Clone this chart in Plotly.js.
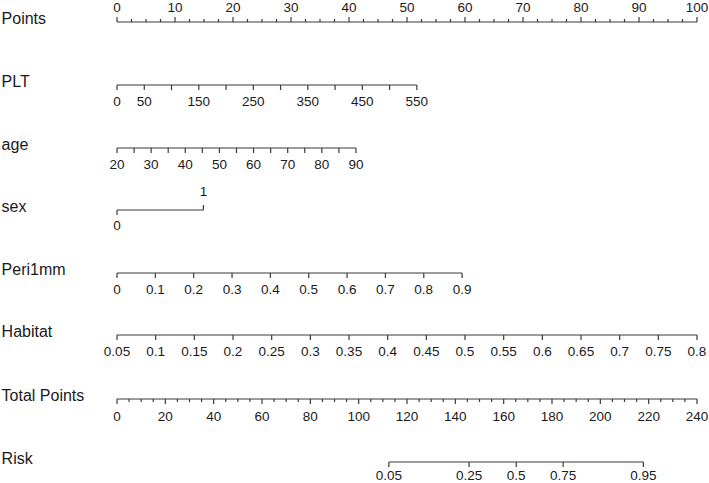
<!DOCTYPE html>
<html>
<head>
<meta charset="utf-8">
<script src="https://cdn.plot.ly/plotly-3.0.1.min.js"></script>
<style>
  html, body { margin: 0; padding: 0; background: #fff; }
  #graph { width: 709px; height: 483px; }
</style>
</head>
<body>
<div id="graph"></div>
<script>
// row names and tick values
const rowNames = ['Points', 'PLT', 'age', 'sex', 'Peri1mm', 'Habitat', 'Total Points', 'Risk'];

const pointsTicks = [0, 10, 20, 30, 40, 50, 60, 70, 80, 90, 100];
const pointsMinorStep = 2.5;

const pltTicks = [0, 50, 100, 150, 200, 250, 300, 350, 400, 450, 500, 550];
const pltLabels = [0, 50, 150, 250, 350, 450, 550];
const pltRange = [0, 550];
const pltPoints = [0, 51.7];

const ageTicks = [20, 25, 30, 35, 40, 45, 50, 55, 60, 65, 70, 75, 80, 85, 90];
const ageLabels = [20, 30, 40, 50, 60, 70, 80, 90];
const ageRange = [20, 90];
const agePoints = [0, 41.2];

const sexTicks = [0, 1];
const sexRange = [0, 1];
const sexPoints = [0, 14.9];

const periTicks = [0, 0.1, 0.2, 0.3, 0.4, 0.5, 0.6, 0.7, 0.8, 0.9];
const periRange = [0, 0.9];
const periPoints = [0, 59.5];

const habitatTicks = [0.05, 0.1, 0.15, 0.2, 0.25, 0.3, 0.35, 0.4, 0.45, 0.5, 0.55, 0.6, 0.65, 0.7, 0.75, 0.8];
const habitatRange = [0.05, 0.8];
const habitatPoints = [0, 100];

const totalTicks = [0, 20, 40, 60, 80, 100, 120, 140, 160, 180, 200, 220, 240];
const totalMinorStep = 5;

const riskLabels = ['0.05', '0.25', '0.5', '0.75', '0.95'];
const riskTotal = [112.5, 145.7, 165.2, 184.6, 217.8];

// layout constants (pixels)
const rowY = [22, 85, 148, 210, 273, 335, 399, 462];
const majorLen = 5;
const minorLen = 3;
const lineColor = '#3a3a3a';
const textColor = '#1a1a1a';
const fontFamily = '"Liberation Sans", Arial, sans-serif';
const tickFont = 13.5;
const nameFont = 16;

function scaler(range, pts) {
    return v => pts[0] + (v - range[0]) / (range[1] - range[0]) * (pts[1] - pts[0]);
}

const traces = [];

function addRow(y, tickXs, dir, xaxis, minorXs) {
    const xs = [tickXs[0], tickXs[tickXs.length - 1], null];
    const ys = [y, y, null];
    tickXs.forEach(t => { xs.push(t, t, null); ys.push(y, y + dir * majorLen, null); });
    (minorXs || []).forEach(t => { xs.push(t, t, null); ys.push(y, y + dir * minorLen, null); });
    traces.push({
        type: 'scatter', mode: 'lines', x: xs, y: ys, xaxis: xaxis,
        line: { color: lineColor, width: 1.2 }, hoverinfo: 'skip', cliponaxis: false
    });
}

function addLabels(xs, texts, y, xaxis) {
    traces.push({
        type: 'scatter', mode: 'text', x: xs, y: xs.map(() => y), text: texts, xaxis: xaxis,
        textposition: 'middle center', cliponaxis: false, hoverinfo: 'skip',
        textfont: { family: fontFamily, size: tickFont, color: textColor }
    });
}

// Points
const pMinor = [];
for (let v = 0; v <= 100; v += pointsMinorStep) if (!pointsTicks.includes(v)) pMinor.push(v);
addRow(rowY[0], pointsTicks, -1, 'x', pMinor);
addLabels(pointsTicks, pointsTicks.map(String), rowY[0] - 13, 'x');

// PLT
const pltX = scaler(pltRange, pltPoints);
addRow(rowY[1], pltTicks.map(pltX), 1, 'x');
addLabels(pltLabels.map(pltX), pltLabels.map(String), rowY[1] + 18, 'x');

// age
const ageX = scaler(ageRange, agePoints);
addRow(rowY[2], ageTicks.map(ageX), 1, 'x');
addLabels(ageLabels.map(ageX), ageLabels.map(String), rowY[2] + 18, 'x');

// sex: 0 ticks down, 1 ticks up
const sexX = scaler(sexRange, sexPoints);
traces.push({
    type: 'scatter', mode: 'lines', hoverinfo: 'skip', cliponaxis: false,
    x: [sexX(0), sexX(1), null, sexX(0), sexX(0), null, sexX(1), sexX(1)],
    y: [rowY[3], rowY[3], null, rowY[3], rowY[3] + majorLen, null, rowY[3], rowY[3] - majorLen],
    line: { color: lineColor, width: 1.2 }
});
addLabels([sexX(0)], ['0'], rowY[3] + 17, 'x');
addLabels([sexX(1)], ['1'], rowY[3] - 17, 'x');

// Peri1mm
const periX = scaler(periRange, periPoints);
addRow(rowY[4], periTicks.map(periX), 1, 'x');
addLabels(periTicks.map(periX), periTicks.map(String), rowY[4] + 18, 'x');

// Habitat
const habX = scaler(habitatRange, habitatPoints);
addRow(rowY[5], habitatTicks.map(habX), 1, 'x');
addLabels(habitatTicks.map(habX), habitatTicks.map(String), rowY[5] + 18, 'x');

// Total Points (second x axis, 0..240)
const tMinor = [];
for (let v = 0; v <= 240; v += totalMinorStep) if (!totalTicks.includes(v)) tMinor.push(v);
addRow(rowY[6], totalTicks, 1, 'x2', tMinor);
addLabels(totalTicks, totalTicks.map(String), rowY[6] + 19, 'x2');

// Risk, placed on the total points scale
addRow(rowY[7], riskTotal, 1, 'x2');
addLabels(riskTotal, riskLabels, rowY[7] + 15, 'x2');

// row names
traces.push({
    type: 'scatter', mode: 'text', x: rowNames.map(() => -19.9), y: rowY.map(y => y - 2),
    text: rowNames, textposition: 'middle right', cliponaxis: false, hoverinfo: 'skip',
    textfont: { family: fontFamily, size: nameFont, color: textColor }
});

// 0 points sits at x=117px, 100 points at x=697px
const pxPerPoint = 580 / 100;
const pxPerTotal = 580 / 240;

const layout = {
    width: 709, height: 483,
    margin: { l: 0, r: 0, t: 0, b: 0 },
    paper_bgcolor: '#fff', plot_bgcolor: '#fff',
    showlegend: false,
    xaxis: { range: [-117 / pxPerPoint, 592 / pxPerPoint], visible: false, fixedrange: true },
    xaxis2: { range: [-117 / pxPerTotal, 592 / pxPerTotal], overlaying: 'x', visible: false, fixedrange: true },
    yaxis: { range: [483, 0], visible: false, fixedrange: true }
};

Plotly.newPlot('graph', traces, layout, { staticPlot: true, displayModeBar: false });
</script>
</body>
</html>
